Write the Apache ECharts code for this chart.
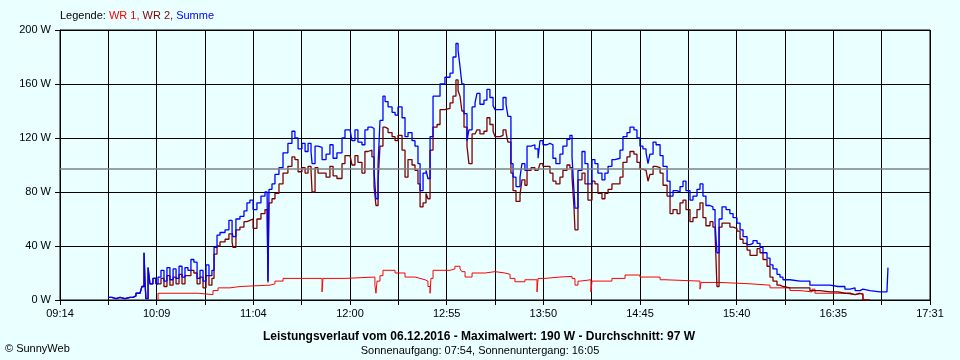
<!DOCTYPE html>
<html>
<head>
<meta charset="utf-8">
<script src="https://cdn.jsdelivr.net/npm/echarts@6/dist/echarts.min.js"></script>
<style>
html,body{margin:0;padding:0;background:#eaffff;}
#chart{width:960px;height:360px;}
</style>
</head>
<body>
<div id="chart"></div>
<script>
// x axis: minutes after 09:14 (axis runs 09:14 .. 17:31)
const tickLabels = ['09:14','10:09','11:04','12:00','12:55','13:50','14:45','15:40','16:35','17:31'];
const spanMinutes = 497;
const averageW = 97;
const yTicks = [0, 40, 80, 120, 160, 200];

// shared time base for WR 2 and Summe (minutes after 09:14)
const timeMin = [27.4,29.7,32.0,34.3,37.1,40.0,41.7,43.4,45.7,46.8,48.0,48.6,49.1,50.3,51.4,53.1,54.8,56.0,57.7,59.4,
61.1,62.8,64.6,66.3,68.0,69.7,71.4,73.1,74.8,76.5,78.3,80.0,81.7,83.4,85.1,86.8,88.0,89.7,91.4,94.3,
96.5,98.3,98.8,100.5,102.8,105.1,106.8,108.5,110.3,112.5,114.8,117.1,118.3,118.8,119.4,121.1,122.8,125.1,127.4,130.2,
132.5,134.2,136.0,138.2,140.0,141.7,143.4,144.0,145.7,147.4,149.7,152.0,154.2,156.0,158.2,161.1,162.8,165.7,166.8,168.5,
170.2,172.5,174.2,175.9,178.2,179.4,180.5,181.7,182.8,184.5,185.7,187.4,189.7,191.4,193.1,195.4,197.1,198.8,201.1,202.8,
204.5,205.7,207.4,209.1,210.2,211.4,213.1,215.4,217.1,219.9,222.8,224.5,226.2,227.4,228.5,229.6,230.8,232.5,233.6,235.4,
237.1,238.2,239.9,242.2,243.9,245.6,247.4,248.5,251.4,253.1,254.8,255.9,257.6,258.8,260.5,262.8,263.9,265.6,266.8,269.1,
271.3,273.1,274.2,275.9,278.2,279.9,281.6,283.3,285.6,287.3,289.6,291.3,292.5,293.6,294.2,295.9,298.2,299.9,301.6,303.9,
305.6,307.3,309.6,311.3,313.1,315.3,317.1,319.9,321.6,323.9,325.6,327.9,329.6,331.3,333.0,334.8,335.9,337.0,338.8,340.5,
342.8,344.5,346.8,348.5,350.2,352.5,354.2,355.9,357.6,359.9,361.6,363.9,365.6,367.3,369.0,371.3,373.0,374.2,375.3,376.5,
378.2,380.5,382.7,384.5,386.7,388.5,390.2,392.5,394.2,395.9,398.2,399.9,401.6,403.9,405.6,407.3,409.6,411.3,413.0,417.0,
422.7,428.4,434.2,439.9,444.4,448.4,451.3,454.2,457.0,458.7,462.7,468.4,472.4,473.0];

const summeW = [2,1,2,1,2,2,3,5,6,10,35,12,1,24,12,16,12,17,22,14,
24,15,23,16,25,17,24,22,30,28,16,22,14,26,18,22,39,48,50,52,
59,50,47,60,62,66,72,74,67,72,77,80,80,14,82,86,93,98,109,116,
125,120,112,116,110,116,110,101,114,113,104,108,115,105,109,120,126,126,118,126,
117,115,126,128,127,95,75,100,133,151,147,143,139,137,143,135,121,124,118,114,
101,81,94,96,90,121,151,151,160,165,168,180,190,185,173,160,138,118,126,143,
146,153,145,148,156,150,144,141,141,150,145,136,101,91,84,91,101,96,114,115,
112,105,118,115,116,115,105,101,108,114,119,122,106,81,68,96,110,101,86,104,
101,94,89,94,99,104,105,111,121,124,128,126,120,114,112,109,101,108,117,115,
107,99,88,77,81,80,84,88,81,74,77,82,86,77,70,69,67,57,35,60,
69,67,64,61,57,52,47,41,42,44,42,39,35,31,26,23,19,17,15,14,
14,11,11,10,10,8,9,7,8,7,6,6,6,24];

const wr2W = [2,1,2,1,2,2,3,5,6,10,35,12,1,24,12,16,12,12,16,10,
18,11,17,12,19,12,18,18,22,20,12,17,9,18,11,16,34,40,43,45,
49,43,39,52,54,58,59,60,53,60,64,67,67,13,72,75,79,86,94,99,
106,104,95,98,94,99,96,80,98,94,94,91,99,92,90,101,107,107,100,107,
102,94,110,111,106,84,70,88,114,128,127,124,121,118,122,111,91,104,100,96,
86,69,72,79,75,111,128,130,141,142,146,151,163,155,151,140,128,114,101,123,
124,126,123,125,135,130,125,121,122,126,124,117,94,81,73,78,89,85,96,98,
96,96,101,99,99,94,88,86,91,96,100,98,91,69,52,89,94,86,74,88,
86,79,75,79,82,86,86,91,102,106,110,108,102,97,96,95,88,93,99,98,
94,85,77,64,67,64,72,74,67,58,61,67,72,61,55,58,54,50,10,54,
57,57,54,53,51,45,42,37,33,33,38,35,30,25,17,14,11,10,9,9,
9,7,6,6,5,5,4,5,4,0,null,null,null,null];

// WR 1 has its own sample times (minutes after 09:14)
const wr1Time = [56.0,56.0,78.8,87.4,90.3,97.1,102.8,120.0,122.8,127.4,149.7,150.2,162.8,179.9,180.5,181.1,182.8,184.5,191.4,197.1,
202.8,205.7,208.5,210.2,211.4,211.9,213.1,222.8,225.6,228.5,229.6,231.4,235.4,242.8,248.5,254.2,257.1,259.9,265.6,272.5,
273.1,277.1,285.6,292.5,294.2,295.9,297.1,303.3,303.9,315.3,322.8,331.3,342.8,345.6,365.6,366.2,377.0,394.2,405.6,417.0,
422.7,429.6,431.3,448.4,454.2,458.7];
const wr1W = [0,5,4,7,9,10,11,12,14,16,6,16,17,11,5,14,18,22,20,17,
16,15,14,10,5,16,22,23,25,23,21,17,20,21,20,19,16,13.5,15,6,
16,17,17.5,16,11,14,15,6,14,16,18.5,17,15,14,8,13,12,11,9,7,
6,8,5,4,5,0];

const zip = (t, v) => t.map((x, i) => [x, v[i]]);
const step = spanMinutes / 18;

const chart = echarts.init(document.getElementById('chart'), null, {renderer: 'canvas'});
const font = 'Liberation Sans, Arial, sans-serif';

chart.setOption({
  backgroundColor: '#eaffff',
  animation: false,
  grid: {left: 60, right: 30, top: 30, bottom: 60, show: true, borderColor: '#000', borderWidth: 1, backgroundColor: 'transparent'},
  xAxis: {
    type: 'value', min: 0, max: spanMinutes, interval: step,
    axisLine: {show: true, lineStyle: {color: '#000', width: 1}},
    axisTick: {show: true, length: 5, lineStyle: {color: '#000'}},
    splitLine: {show: true, lineStyle: {color: '#000', width: 1}},
    axisLabel: {
      color: '#000', fontFamily: font, fontSize: 11, margin: 8,
      showMinLabel: true, showMaxLabel: true,
      formatter: function (v) {
        const k = Math.round(v / step);
        return k % 2 === 0 ? tickLabels[k / 2] : '';
      }
    }
  },
  yAxis: {
    type: 'value', min: yTicks[0], max: yTicks[yTicks.length - 1], interval: 40,
    axisLine: {show: true, lineStyle: {color: '#000', width: 1}},
    axisTick: {show: true, length: 5, lineStyle: {color: '#000'}},
    splitLine: {show: true, lineStyle: {color: '#000', width: 1}},
    axisLabel: {color: '#000', fontFamily: font, fontSize: 11, margin: 9, formatter: '{value} W'}
  },
  graphic: [
    {type: 'text', left: 60, top: 10.5, style: {
      text: '{k|Legende: }{a|WR 1, }{b|WR 2, }{c|Summe}',
      font: '11px ' + font,
      rich: {
        k: {fill: '#000', fontSize: 11, fontFamily: font},
        a: {fill: '#ff0000', fontSize: 11, fontFamily: font},
        b: {fill: '#800000', fontSize: 11, fontFamily: font},
        c: {fill: '#0000ff', fontSize: 11, fontFamily: font}
      }
    }},
    {type: 'text', x: 479, y: 337, style: {
      text: 'Leistungsverlauf vom 06.12.2016 - Maximalwert: 190 W - Durchschnitt: 97 W',
      fill: '#000', font: 'bold 12px ' + font, textAlign: 'center', textVerticalAlign: 'middle'}},
    {type: 'text', x: 480, y: 351, style: {
      text: 'Sonnenaufgang: 07:54, Sonnenuntergang: 16:05',
      fill: '#000', font: '11px ' + font, textAlign: 'center', textVerticalAlign: 'middle'}},
    {type: 'text', x: 5, y: 349, style: {
      text: '\u00A9 SunnyWeb', fill: '#000', font: '11px ' + font, textVerticalAlign: 'middle'}}
  ],
  series: [
    {
      name: 'WR 1', type: 'line', step: 'end', showSymbol: false, symbol: 'none',
      data: zip(wr1Time, wr1W),
      lineStyle: {color: '#ff0000', width: 1}, itemStyle: {color: '#ff0000'},
      markLine: {
        silent: true, symbol: 'none', label: {show: false},
        lineStyle: {color: '#808080', type: 'solid', width: 1.5},
        data: [{yAxis: averageW}]
      },
      z: 2
    },
    {
      name: 'WR 2', type: 'line', step: 'end', showSymbol: false, symbol: 'none', connectNulls: false,
      data: zip(timeMin, wr2W),
      lineStyle: {color: '#800000', width: 1.3}, itemStyle: {color: '#800000'}, z: 3
    },
    {
      name: 'Summe', type: 'line', step: 'end', showSymbol: false, symbol: 'none',
      data: zip(timeMin, summeW),
      lineStyle: {color: '#0000ff', width: 1.3}, itemStyle: {color: '#0000ff'}, z: 4
    }
  ]
});
</script>
</body>
</html>
